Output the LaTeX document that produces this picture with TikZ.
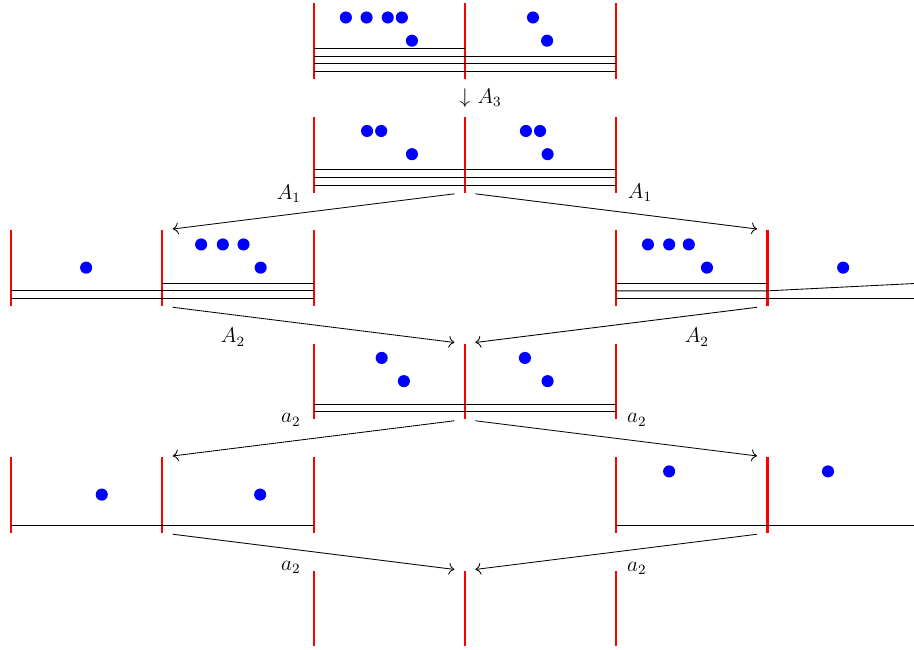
\documentclass[tikz,border=0pt]{standalone}
\usepackage{amsmath}
\usepackage{amssymb}
\usepackage{tikz}
\usetikzlibrary{arrows,arrows.meta,positioning,calc}

\begin{document}
\begin{tikzpicture}[line width=0.48pt,>={To[scale=1.2]}]
        \tikzstyle{every node}=[font=\large]
        \tikzstyle{wall}=[red,line width=1.2pt]
        \tikzstyle{stone}=[blue]
        \tikzstyle{hub}=[circle,minimum size=4mm,inner sep=0pt]
        \useasboundingbox (-0.218,-11.32) rectangle (17.905,1.567);

        %%% Row 1
        \begin{scope}[shift={(0,0)}]
            \draw[wall] (6,0) -- (6,1.5);
            \draw[wall] (9,0) -- (9,1.5);
            \draw[wall] (12,0) -- (12,1.5);
            \draw (6,0.6) -- (9,0.6);
            \draw (6,0.45) -- (12,0.45);
            \draw (6,0.3) -- (12,0.3);
            \draw (6,0.15) -- (12,0.15);
            \fill[stone] (6.64,1.22) circle (0.12) (7.05,1.22) circle (0.12)
                (7.47,1.22) circle (0.12) (7.75,1.22) circle (0.12) (7.95,0.76) circle (0.12);
            \fill[stone] (10.35,1.22) circle (0.12) (10.63,0.76) circle (0.12);
            \node[label={[label distance=-3pt]right:$A_3$}] (down3) at (9,-0.375) {$\downarrow$};
        \end{scope}

        %%% Row 2
        \begin{scope}[shift={(0,-2.25)}]
            \draw[wall] (6,0) -- (6,1.5);
            \draw[wall] (9,0) -- (9,1.5);
            \draw[wall] (12,0) -- (12,1.5);
            \draw (6,0.45) -- (12,0.45);
            \draw (6,0.3) -- (12,0.3);
            \draw (6,0.15) -- (12,0.15);
            \fill[stone] (7.06,1.22) circle (0.12) (7.34,1.22) circle (0.12) (7.95,0.76) circle (0.12);
            \fill[stone] (10.21,1.22) circle (0.12) (10.49,1.22) circle (0.12) (10.64,0.76) circle (0.12);
            \node[hub] (r2bot) at (9,0) {};
            \node (lA1) at (5.51,-0.03) {$A_1$};
            \node (rA1) at (12.47,-0.01) {$A_1$};
        \end{scope}

        %%% Row 3
        \begin{scope}[shift={(0,-4.5)}]
            \draw[wall] (0,0) -- (0,1.5);
            \draw[wall] (3,0) -- (3,1.5);
            \draw[wall] (6,0) -- (6,1.5);
            \draw[wall] (12,0) -- (12,1.5);
            \draw[wall] (15,0) -- (15,1.5);
            \draw (3,0.45) -- (6,0.45);
            \draw (0,0.3) -- (6,0.3);
            \draw (0,0.15) -- (6,0.15);
            \draw (12,0.45) -- (15,0.45);
            \draw (12,0.3) -- (15,0.3) -- (18,0.45);
            \draw (12,0.15) -- (18,0.15);
            \fill[stone] (1.49,0.76) circle (0.12);
            \fill[stone] (3.77,1.22) circle (0.12) (4.20,1.22) circle (0.12)
                (4.61,1.22) circle (0.12) (4.95,0.76) circle (0.12);
            \fill[stone] (12.63,1.22) circle (0.12) (13.05,1.22) circle (0.12)
                (13.44,1.22) circle (0.12) (13.80,0.76) circle (0.12);
            \fill[stone] (16.50,0.76) circle (0.12);
            \node[hub] (r3Ltop) at (3,1.5) {};
            \node[hub] (r3Rtop) at (15,1.5) {};
            \node[hub] (r3Lbot) at (3,0) {};
            \node[hub] (r3Rbot) at (15,0) {};
            \node (lA2) at (4.40,-0.62) {$A_2$};
            \node (rA2) at (13.60,-0.62) {$A_2$};
        \end{scope}

        %%% Row 4
        \begin{scope}[shift={(0,-6.75)}]
            \draw[wall] (6,0) -- (6,1.5);
            \draw[wall] (9,0) -- (9,1.5);
            \draw[wall] (12,0) -- (12,1.5);
            \draw (6,0.3) -- (12,0.3);
            \draw (6,0.15) -- (12,0.15);
            \fill[stone] (7.35,1.22) circle (0.12) (7.79,0.76) circle (0.12);
            \fill[stone] (10.19,1.22) circle (0.12) (10.64,0.76) circle (0.12);
            \node[hub] (r4top) at (9,1.5) {};
            \node[hub] (r4bot) at (9,0) {};
            \node (la2) at (5.55,-0.01) {$a_2$};
            \node (ra2) at (12.41,-0.01) {$a_2$};
        \end{scope}

        %%% Row 5
        \begin{scope}[shift={(0,-9)}]
            \draw[wall] (0,0) -- (0,1.5);
            \draw[wall] (3,0) -- (3,1.5);
            \draw[wall] (6,0) -- (6,1.5);
            \draw[wall] (12,0) -- (12,1.5);
            \draw[wall] (15,0) -- (15,1.5);
            \draw (0,0.15) -- (6,0.15);
            \draw (12,0.15) -- (18,0.15);
            \fill[stone] (1.80,0.76) circle (0.12) (4.94,0.76) circle (0.12);
            \fill[stone] (13.05,1.22) circle (0.12) (16.20,1.22) circle (0.12);
            \node[hub] (r5Ltop) at (3,1.5) {};
            \node[hub] (r5Rtop) at (15,1.5) {};
            \node[hub] (r5Lbot) at (3,0) {};
            \node[hub] (r5Rbot) at (15,0) {};
            \node (lb2) at (5.55,-0.69) {$a_2$};
            \node (rb2) at (12.41,-0.70) {$a_2$};
        \end{scope}

        %%% Row 6
        \begin{scope}[shift={(0,-11.25)}]
            \draw[wall] (6,0) -- (6,1.5);
            \draw[wall] (9,0) -- (9,1.5);
            \draw[wall] (12,0) -- (12,1.5);
            \node[hub] (r6top) at (9,1.5) {};
        \end{scope}

        \draw[->] (r2bot) edge (r3Ltop);
        \draw[->] (r2bot) edge (r3Rtop);
        \draw[->] (r3Lbot) edge (r4top);
        \draw[->] (r3Rbot) edge (r4top);
        \draw[->] (r4bot) edge (r5Ltop);
        \draw[->] (r4bot) edge (r5Rtop);
        \draw[->] (r5Lbot) edge (r6top);
        \draw[->] (r5Rbot) edge (r6top);
    \end{tikzpicture}
\end{document}
